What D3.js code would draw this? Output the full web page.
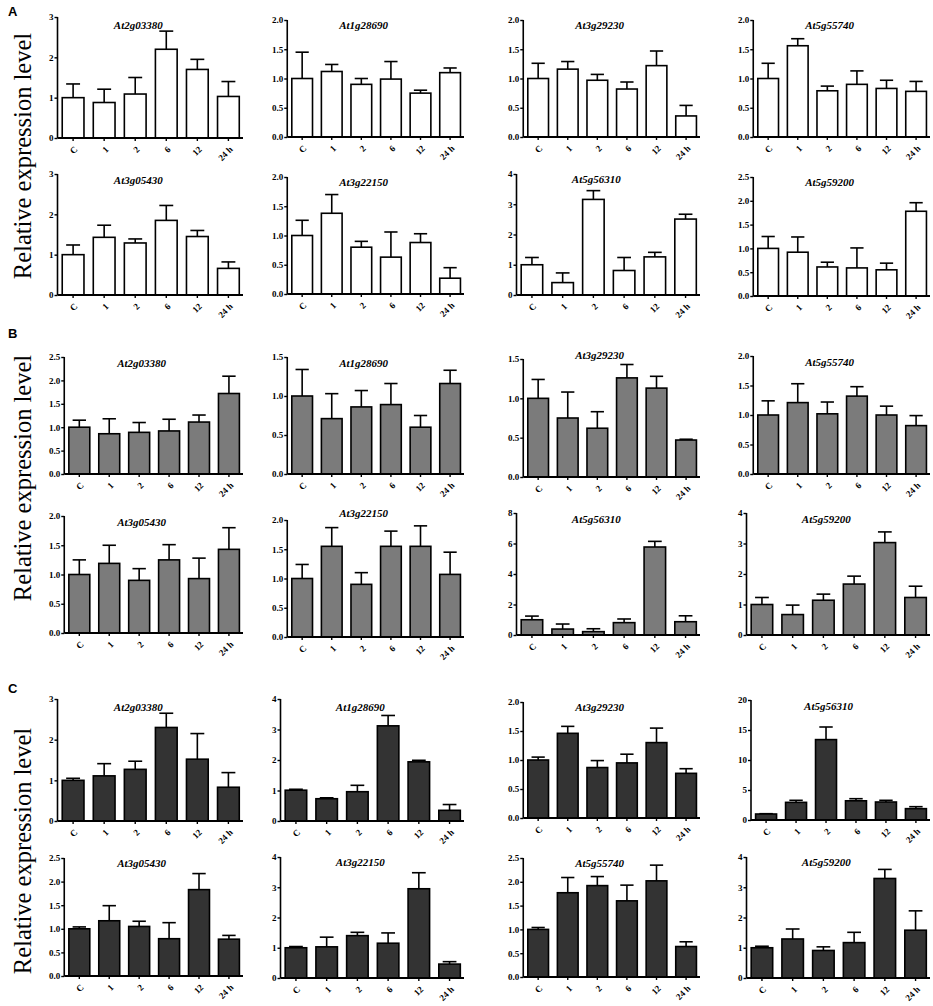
<!DOCTYPE html>
<html>
<head>
<meta charset="utf-8">
<script src="https://cdn.jsdelivr.net/npm/d3@7/dist/d3.min.js"></script>
<style>
    body { margin: 0; background: #fff; }
    svg { display: block; }
    .tick text { font-family: 'Liberation Serif', 'Times New Roman', serif; font-weight: bold; font-size: 9px; }
</style>
</head>
<body>
<div id="chart"></div>
<script>
// time points (x axis)
const timePoints = ['C', '1', '2', '6', '12', '24 h'];

// panel A (white bars)
const genesA = ['At2g03380', 'At1g28690', 'At3g29230', 'At5g55740', 'At3g05430', 'At3g22150', 'At5g56310', 'At5g59200'];
const yMaxA = [3, 2, 2, 2, 3, 2, 4, 2.5];
const yStepA = [1, 0.5, 0.5, 0.5, 1, 0.5, 1, 0.5];
const meanA = [
    [1.0, 0.88, 1.09, 2.2, 1.7, 1.03],
    [1.0, 1.12, 0.9, 0.99, 0.75, 1.1],
    [1.0, 1.16, 0.97, 0.82, 1.22, 0.36],
    [1.0, 1.56, 0.79, 0.9, 0.83, 0.78],
    [1.0, 1.43, 1.29, 1.85, 1.45, 0.66],
    [1.0, 1.38, 0.8, 0.63, 0.88, 0.27],
    [1.0, 0.41, 3.16, 0.81, 1.26, 2.51],
    [1.0, 0.92, 0.61, 0.59, 0.55, 1.78],
];
const semA = [
    [0.34, 0.33, 0.41, 0.45, 0.25, 0.37],
    [0.45, 0.12, 0.1, 0.3, 0.05, 0.08],
    [0.26, 0.13, 0.1, 0.12, 0.25, 0.18],
    [0.26, 0.12, 0.08, 0.23, 0.14, 0.17],
    [0.24, 0.3, 0.1, 0.37, 0.15, 0.16],
    [0.26, 0.32, 0.1, 0.43, 0.15, 0.18],
    [0.24, 0.32, 0.29, 0.43, 0.15, 0.16],
    [0.25, 0.32, 0.1, 0.42, 0.14, 0.18],
];

// panel B (grey bars)
const genesB = ['At2g03380', 'At1g28690', 'At3g29230', 'At5g55740', 'At3g05430', 'At3g22150', 'At5g56310', 'At5g59200'];
const yMaxB = [2.5, 1.5, 1.5, 2, 2, 2, 8, 4];
const yStepB = [0.5, 0.5, 0.5, 0.5, 0.5, 0.5, 2, 1];
const meanB = [
    [1.0, 0.86, 0.89, 0.92, 1.11, 1.72],
    [1.0, 0.71, 0.86, 0.89, 0.6, 1.16],
    [1.0, 0.75, 0.62, 1.26, 1.13, 0.47],
    [1.0, 1.21, 1.02, 1.32, 1.0, 0.82],
    [1.0, 1.19, 0.9, 1.25, 0.93, 1.43],
    [1.0, 1.55, 0.9, 1.55, 1.55, 1.07],
    [1.0, 0.39, 0.22, 0.81, 5.77, 0.87],
    [1.0, 0.67, 1.14, 1.67, 3.03, 1.23],
];
const semB = [
    [0.15, 0.32, 0.21, 0.25, 0.15, 0.37],
    [0.34, 0.32, 0.21, 0.27, 0.15, 0.17],
    [0.24, 0.33, 0.21, 0.17, 0.15, 0.01],
    [0.24, 0.32, 0.2, 0.16, 0.15, 0.17],
    [0.25, 0.31, 0.2, 0.26, 0.35, 0.37],
    [0.24, 0.32, 0.2, 0.26, 0.35, 0.38],
    [0.24, 0.33, 0.19, 0.24, 0.37, 0.39],
    [0.23, 0.31, 0.2, 0.26, 0.35, 0.37],
];

// panel C (dark bars)
const genesC = ['At2g03380', 'At1g28690', 'At3g29230', 'At5g56310', 'At3g05430', 'At3g22150', 'At5g55740', 'At5g59200'];
const yMaxC = [3, 4, 2, 20, 2.5, 4, 2.5, 4];
const yStepC = [1, 1, 0.5, 5, 0.5, 1, 0.5, 1];
const meanC = [
    [1.0, 1.11, 1.27, 2.3, 1.52, 0.83],
    [1.01, 0.73, 0.96, 3.12, 1.94, 0.35],
    [1.0, 1.46, 0.87, 0.95, 1.3, 0.77],
    [1.0, 2.94, 13.4, 3.2, 3.0, 1.89],
    [1.0, 1.17, 1.05, 0.79, 1.83, 0.78],
    [1.0, 1.03, 1.4, 1.15, 2.95, 0.46],
    [1.0, 1.77, 1.92, 1.6, 2.02, 0.64],
    [1.0, 1.29, 0.91, 1.17, 3.29, 1.58],
];
const semC = [
    [0.05, 0.3, 0.2, 0.35, 0.63, 0.36],
    [0.03, 0.03, 0.21, 0.34, 0.05, 0.19],
    [0.05, 0.12, 0.12, 0.15, 0.25, 0.08],
    [0.05, 0.34, 2.1, 0.35, 0.28, 0.33],
    [0.04, 0.32, 0.11, 0.34, 0.34, 0.08],
    [0.04, 0.32, 0.11, 0.34, 0.53, 0.08],
    [0.04, 0.32, 0.19, 0.33, 0.33, 0.1],
    [0.05, 0.33, 0.12, 0.34, 0.3, 0.64],
];

const W = 933, H = 1006;
const svg = d3.select('#chart').append('svg').attr('width', W).attr('height', H);

// layout: columns (label left edge, right end of x axis); per panel axis top, baseline, title baseline
const colLeft = [47, 270, 506, 736];
const colRight = [243, 464, 700, 930];

const sections = [
    {
        letter: 'A', letterY: 16, labelY: 156, fill: '#ffffff',
        genes: genesA, yMax: yMaxA, yStep: yStepA, mean: meanA, sem: semA,
        top: [17, 20, 20, 20, 174, 177, 174, 177],
        base: [138, 137, 137, 137, 295, 294, 295, 296],
        titleY: [29, 29, 29, 29, 184, 186, 183, 186],
    },
    {
        letter: 'B', letterY: 338, labelY: 478, fill: '#7b7b7b',
        genes: genesB, yMax: yMaxB, yStep: yStepB, mean: meanB, sem: semB,
        top: [357, 357, 359, 356, 516, 520, 513, 513],
        base: [474, 474, 477, 474, 633, 637, 635, 635],
        titleY: [367, 367, 359, 366, 526, 517, 523, 523],
    },
    {
        letter: 'C', letterY: 693, labelY: 851, fill: '#333333',
        genes: genesC, yMax: yMaxC, yStep: yStepC, mean: meanC, sem: semC,
        top: [699, 699, 702, 700, 858, 857, 858, 857],
        base: [821, 821, 818, 820, 976, 978, 977, 978],
        titleY: [711, 711, 711, 710, 867, 866, 867, 866],
    },
];

function drawPanel(sec, k) {
    const col = k % 4;
    const top = sec.top[k];
    const base = sec.base[k];
    const yMax = sec.yMax[k];
    const step = sec.yStep[k];
    const fmt = step < 1 ? d3.format('.1f') : d3.format('d');
    const tickVals = d3.range(0, yMax + step / 2, step);

    const g = svg.append('g');

    // measure tick label width so the axis sits right after the labels
    const probe = g.append('text')
        .style('font-family', 'Liberation Serif').style('font-weight', 'bold').style('font-size', '9px')
        .text(fmt(yMax));
    const lw = probe.node().getComputedTextLength();
    probe.remove();
    const x0 = colLeft[col] + lw + 6;
    const x1 = colRight[col];

    const y = d3.scaleLinear().domain([0, yMax]).range([base, top]);
    const x = d3.scaleBand().domain(timePoints).range([x0 + 1, x1]).paddingInner(0.3).paddingOuter(0.12);

    const data = timePoints.map((t, i) => ({ t: t, m: sec.mean[k][i], s: sec.sem[k][i] }));
    const cx = d => x(d.t) + x.bandwidth() / 2;

    // error bars (upper only)
    const cap = x.bandwidth() * 0.32;
    g.selectAll('.err').data(data).enter().append('line')
        .attr('x1', cx).attr('x2', cx)
        .attr('y1', d => y(d.m))
        .attr('y2', d => y(d.m + d.s))
        .attr('stroke', '#000').attr('stroke-width', 1.6);
    g.selectAll('.cap').data(data).enter().append('line')
        .attr('x1', d => cx(d) - cap)
        .attr('x2', d => cx(d) + cap)
        .attr('y1', d => y(d.m + d.s))
        .attr('y2', d => y(d.m + d.s))
        .attr('stroke', '#000').attr('stroke-width', 1.6);

    // bars
    g.selectAll('.bar').data(data).enter().append('rect')
        .attr('x', d => x(d.t))
        .attr('y', d => y(d.m))
        .attr('width', x.bandwidth())
        .attr('height', d => base - y(d.m))
        .attr('fill', sec.fill)
        .attr('stroke', '#000').attr('stroke-width', 1.6);

    // y axis
    const yAxis = g.append('g').attr('transform', `translate(${x0},0)`)
        .call(d3.axisLeft(y).tickValues(tickVals).tickFormat(fmt).tickSize(3).tickPadding(1));
    yAxis.attr('font-family', 'Liberation Serif');
    yAxis.select('.domain').attr('stroke-width', 1.6).attr('d', `M0,${top}V${base}`);
    yAxis.selectAll('.tick line').attr('stroke-width', 1.4);
    yAxis.selectAll('.tick text').attr('fill', '#000');

    // x axis
    const xAxis = g.append('g').attr('transform', `translate(0,${base})`)
        .call(d3.axisBottom(x).tickSize(3).tickSizeOuter(0));
    xAxis.attr('font-family', 'Liberation Serif');
    xAxis.select('.domain').attr('stroke-width', 1.8).attr('d', `M${x0},0H${x1}`);
    xAxis.selectAll('.tick line').attr('stroke-width', 1.4);
    xAxis.selectAll('.tick text')
        .attr('fill', '#000')
        .attr('text-anchor', 'end')
        .attr('dy', null)
        .attr('y', 0)
        .attr('transform', 'translate(5,12) rotate(-45)');

    // gene title
    g.append('text')
        .attr('x', (x0 + x1) / 2 - 12)
        .attr('y', sec.titleY[k])
        .attr('text-anchor', 'middle')
        .style('font-family', 'Liberation Serif')
        .style('font-style', 'italic')
        .style('font-weight', 'bold')
        .style('font-size', '11px')
        .text(sec.genes[k]);
}

sections.forEach(sec => {
    svg.append('text')
        .attr('x', 8).attr('y', sec.letterY)
        .style('font-family', 'Liberation Sans')
        .style('font-weight', 'bold')
        .style('font-size', '13px')
        .text(sec.letter);

    svg.append('text')
        .attr('transform', `translate(31,${sec.labelY}) rotate(-90)`)
        .attr('text-anchor', 'middle')
        .style('font-family', 'Liberation Serif')
        .style('font-size', '24.5px')
        .text('Relative expression level');

    for (let k = 0; k < 8; k++) drawPanel(sec, k);
});
</script>
</body>
</html>
